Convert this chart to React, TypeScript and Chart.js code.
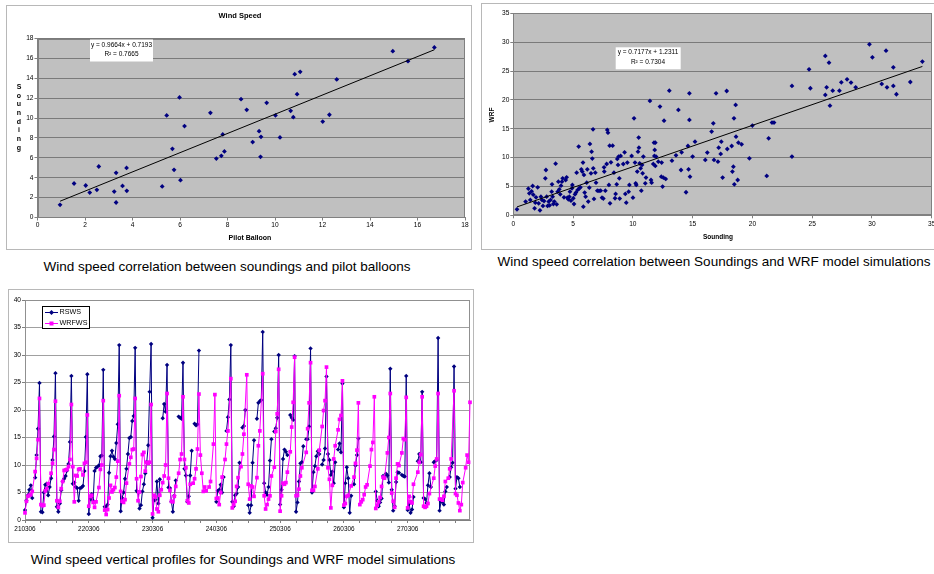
import React, { useEffect, useRef } from 'react';
import { Chart, registerables } from 'chart.js';

Chart.register(...registerables);

const FONT = '"Liberation Sans", Arial, Helvetica, sans-serif';
const NAVY = '#000080';
const PINK = '#FF00FF';

// ---------------- Chart 1: Pilot balloon vs sounding ----------------
const PILOT_BALLOON = [
  0.95, 1.54, 2.03, 2.20, 2.50, 2.58, 3.23, 3.31, 3.31, 3.58, 3.76, 3.75, 5.25, 5.44, 5.68,
  5.75, 5.98, 6.02, 6.19, 7.28, 7.53, 7.74, 7.80, 7.87, 8.57, 8.81, 9.06, 9.33, 9.39, 9.41,
  9.65, 10.02, 10.21, 10.66, 10.77, 10.83, 10.93, 11.06, 12.01, 12.29, 12.60, 14.96, 15.60, 16.71,
];
const SOUNDING_1 = [
  1.27, 3.42, 3.22, 2.51, 2.78, 5.13, 2.61, 4.49, 1.51, 3.18, 2.68, 4.99, 3.12, 10.26, 6.91,
  4.79, 12.07, 3.75, 9.19, 10.53, 5.93, 6.20, 8.35, 6.64, 11.90, 10.83, 7.58, 8.68, 6.10, 8.11,
  11.53, 10.26, 8.05, 10.73, 10.09, 14.41, 12.40, 14.65, 9.65, 10.33, 13.88, 16.73, 15.72, 17.10,
];
const TREND_1 = { slope: 0.9664, intercept: 0.7193 };
const TREND_1_TEXT = ['y = 0.9664x + 0.7193', 'R² = 0.7665'];
const AXIS_1_TICKS = { min: 0, max: 18, step: 2 };

// ---------------- Chart 2: Sounding vs WRF ----------------
const SOUNDING_2 = [
  0.31, 1.03, 1.26, 1.34, 1.42, 1.53, 1.62, 1.67, 1.78, 1.84,
  1.90, 2.04, 2.12, 2.23, 2.31, 2.40, 2.48, 2.57, 2.68, 2.73,
  2.79, 2.87, 2.96, 3.04, 3.12, 3.21, 3.24, 3.29, 3.35, 3.43,
  3.54, 3.63, 3.71, 3.77, 3.85, 3.93, 3.99, 4.07, 4.13, 4.24,
  4.38, 4.46, 4.52, 4.60, 4.69, 4.74, 4.82, 4.91, 4.94, 5.02,
  5.08, 5.16, 5.24, 5.30, 5.38, 5.47, 5.52, 5.61, 5.69, 5.77,
  5.83, 5.86, 5.91, 5.97, 6.05, 6.14, 6.19, 6.27, 6.36, 6.41,
  6.50, 6.55, 6.61, 6.67, 6.69, 6.75, 6.86, 6.92, 7.03, 7.17,
  7.31, 7.42, 7.53, 7.59, 7.61, 7.70, 7.81, 7.86, 7.92, 8.00,
  8.06, 8.09, 8.17, 8.31, 8.42, 8.51, 8.56, 8.65, 8.70, 8.76,
  8.81, 8.87, 8.90, 8.98, 9.20, 9.31, 9.37, 9.45, 9.54, 9.65,
  9.71, 9.90, 10.01, 10.10, 10.18, 10.24, 10.29, 10.37, 10.43, 10.49,
  10.51, 10.57, 10.65, 10.71, 10.77, 10.82, 10.88, 11.04, 11.10, 11.43,
  11.52, 11.57, 11.71, 11.77, 11.80, 11.83, 11.88, 11.88, 11.94, 12.13,
  12.27, 12.38, 12.41, 12.49, 12.55, 12.61, 12.75, 13.05, 13.27, 13.61,
  13.81, 14.03, 14.08, 14.45, 14.61, 14.66, 14.73, 14.73, 14.78, 15.00,
  15.20, 16.06, 16.23, 16.59, 16.73, 16.79, 16.96, 17.12, 17.18, 17.35,
  17.40, 17.51, 17.85, 17.90, 18.27, 18.33, 18.41, 18.46, 18.49, 18.60,
  18.63, 18.77, 18.83, 19.10, 19.75, 20.00, 21.20, 21.36, 21.64, 21.81,
  23.31, 23.31, 24.74, 24.85, 26.10, 26.10, 26.21, 26.41, 26.49, 26.72,
  27.28, 27.44, 27.92, 28.25, 28.64, 29.79, 30.04, 30.82, 31.18, 31.26,
  31.79, 31.79, 32.05, 33.21, 34.22,
];
const WRF_2 = [
  1.04, 2.37, 4.62, 3.81, 2.66, 4.16, 5.08, 3.58, 1.21, 2.19,
  3.12, 4.85, 2.08, 0.87, 3.23, 2.66, 1.62, 2.48, 6.41, 7.85,
  3.23, 1.62, 2.37, 1.73, 2.66, 4.10, 5.37, 3.23, 1.96, 2.37,
  8.95, 1.91, 4.10, 5.83, 4.50, 3.64, 5.14, 5.83, 6.41, 3.12,
  6.12, 6.58, 3.06, 2.77, 3.23, 4.10, 2.54, 4.68, 5.26, 2.95,
  1.96, 3.64, 3.93, 7.39, 4.39, 11.90, 4.68, 4.85, 7.97, 7.57,
  9.13, 1.50, 6.99, 3.93, 3.23, 5.66, 7.97, 2.37, 4.79, 12.36,
  7.28, 11.03, 9.82, 14.90, 8.14, 2.83, 7.39, 5.66, 4.27, 4.22,
  4.27, 3.06, 2.89, 8.32, 7.57, 4.27, 8.89, 14.79, 14.32, 5.26,
  12.07, 2.08, 9.18, 12.07, 7.39, 2.95, 3.70, 5.37, 9.76, 8.72,
  10.17, 6.41, 2.89, 10.28, 8.89, 10.92, 3.70, 2.19, 9.13, 4.10,
  5.26, 10.28, 3.06, 16.81, 9.13, 5.54, 5.26, 7.57, 11.03, 13.46,
  11.72, 9.01, 8.14, 4.27, 8.72, 7.28, 10.17, 5.54, 6.53, 19.81,
  6.12, 5.66, 8.89, 12.59, 10.28, 11.32, 12.59, 8.55, 10.17, 9.30,
  18.83, 6.70, 9.13, 4.97, 6.53, 16.40, 6.30, 21.60, 9.47, 10.40,
  18.25, 7.85, 10.92, 3.99, 12.01, 7.97, 21.14, 16.52, 6.70, 10.17,
  12.76, 9.59, 10.86, 14.50, 15.94, 9.59, 21.14, 9.30, 11.72, 10.63,
  12.76, 6.53, 21.54, 11.49, 12.01, 7.57, 8.43, 16.81, 5.37, 19.12,
  13.63, 6.12, 12.59, 12.30, 9.88, 15.54, 6.82, 13.34, 16.06, 16.06,
  22.41, 10.17, 25.30, 22.01, 27.61, 20.85, 22.18, 26.45, 19.00, 21.60,
  21.60, 23.04, 23.56, 22.99, 22.18, 29.63, 27.38, 22.76, 28.53, 22.18,
  22.41, 25.64, 20.97, 23.10, 26.63,
];
const TREND_2 = { slope: 0.7177, intercept: 1.2311 };
const TREND_2_TEXT = ['y = 0.7177x + 1.2311', 'R² = 0.7304'];
const AXIS_2_TICKS = { min: 0, max: 35, step: 5 };

// ---------------- Chart 3: vertical profiles ----------------
const DAY_LABELS = ['210306', '220306', '230306', '240306', '250306', '260306', '270306'];
const LEVELS_PER_PROFILE = 11;
const PROFILES_PER_DAY = 4;
const _ = null;
const RSWS: (number | null)[] = [
  1.8, 3.5, 4.5, 5.5, 6.3, 4.0, _, 7.7, 11.8, 16.6, 24.9,
  1.5, 1.4, 5.0, 6.4, 6.6, 4.5, 6.0, 7.6, 10.9, 15.2, 26.7,
  2.4, 1.5, 3.0, 5.4, 7.0, 7.5, 8.0, 9.0, 10.2, 14.2, 26.2,
  6.6, 6.8, 6.0, 5.8, 3.5, 5.8, 5.9, 6.2, 8.9, 15.1, 26.5,
  1.1, 3.8, 4.7, 3.5, 8.9, 9.5, 9.7, 9.9, 11.6, 11.7, 27.3,
  2.4, 2.4, 2.8, 8.6, 11.6, 12.6, 11.5, 11.1, 14.0, 17.4, 31.8,
  1.6, 4.0, 5.0, 7.5, 9.3, 12.0, 14.9, 15.1, 18.0, 18.9, 31.3,
  5.3, 5.0, 2.1, 2.7, 5.2, 6.5, 8.5, 10.5, 13.6, 23.3, 32.0,
  0.4, 3.6, 3.7, 7.0, 3.0, 7.4, _, 18.5, 21.1, 19.7, 28.2,
  5.9, 5.8, 3.3, 1.5, 4.4, 7.2, _, 18.8, 18.6, 18.4, 28.6,
  9.3, 8.1, 3.3, 4.3, 8.1, 12.6, _, 17.5, 17.2, 17.4, 30.8,
  _, _, _, _, _, _, _, _, _, _, _,
  3.3, 5.3, 5.5, 6.4, 5.0, 7.8, _, 16.2, 18.7, 21.9, 31.8,
  3.3, 2.5, 4.5, 4.8, 6.0, 10.4, _, 16.8, 17.1, 20.0, _,
  2.7, 1.3, 2.7, 10.4, 14.5, _, 18.4, 21.3, 21.6, 21.8, 34.2,
  6.7, 5.0, 4.6, 6.0, 10.8, 14.7, _, 16.1, 16.7, 18.6, 30.0,
  2.8, 5.5, 11.1, 12.8, 12.4, 11.8, _, 19.1, 18.6, 18.2, 29.8,
  1.5, 3.2, 7.0, 10.3, 10.5, 13.4, _, 14.7, 14.7, 17.0, 31.2,
  5.0, 8.7, 9.8, 11.6, 12.5, 12.0, _, 10.1, 10.9, 13.0, 26.1,
  12.0, 10.9, 8.2, 8.8, 6.7, 10.5, _, 12.8, 13.9, 12.3, 24.8,
  2.3, 6.7, 9.6, 7.6, 1.3, 4.4, _, 6.5, 9.9, 11.8, 14.8,
  _, _, _, _, _, _, _, _, _, _, _,
  5.2, 3.5, 2.5, 3.2, 3.9, 8.0, 7.7, 8.4, 8.1, 6.8, 27.5,
  5.5, 1.7, 2.5, 6.9, 8.7, 8.6, _, 8.2, 8.0, 7.9, 26.2,
  1.8, 3.0, 1.3, 1.9, 4.2, _, _, 10.7, 12.0, 10.5, 23.3,
  4.0, 3.8, 3.1, 6.3, 8.5, 6.0, _, 10.5, 10.7, 10.9, 33.1,
  1.7, 3.3, 3.3, 2.8, 5.2, 6.0, _, 7.8, 9.6, 10.4, 27.9,
  5.7, 7.8, 7.6, 6.0, _, _, _, _, _, _, _,
];
const WRFWS: (number | null)[] = [
  1.3, 3.4, 4.3, 4.5, 4.6, 5.2, _, 8.8, 11.2, 14.6, 22.1,
  2.8, 2.6, 2.7, 5.3, 5.7, 6.6, _, 8.5, 10.3, 12.8, 21.6,
  3.5, 2.3, 3.4, 5.7, 7.0, 9.0, 9.1, 9.2, 9.7, 11.0, 21.0,
  9.7, 3.3, 8.1, 8.0, 9.2, 9.3, _, 8.2, 10.3, 10.5, 19.1,
  2.5, 4.3, 4.5, 3.2, 2.3, 3.3, _, 5.9, 9.2, 10.0, 21.7,
  1.8, 1.0, 1.9, 4.0, 6.3, 5.1, 5.5, 5.9, 7.8, 10.7, 22.6,
  5.2, 3.4, 3.2, 3.7, 6.7, _, 10.2, 11.4, 12.8, 12.9, 22.1,
  7.5, 3.5, 5.1, 7.9, 11.9, 12.3, 8.9, 10.5, 10.3, 10.5, 21.0,
  1.1, 4.5, 4.2, 2.0, 1.5, 4.5, 5.5, 6.8, 8.0, 10.0, 23.0,
  7.6, 5.4, 3.4, 3.3, 4.3, 6.1, _, 8.5, 11.0, 12.0, 22.4,
  11.0, 9.5, 3.5, 3.1, 6.5, _, 6.7, 7.5, 9.3, 12.9, 22.9,
  11.8, 8.5, 5.2, 6.0, 5.3, _, 6.0, 7.0, _, 13.8, 22.8,
  3.9, 4.0, 2.8, 5.0, 7.8, _, 11.0, 13.8, 16.2, _, 25.7,
  2.2, 2.8, 3.4, 6.1, 7.7, _, 9.7, 12.0, 15.6, _, 26.4,
  6.5, 3.8, 6.2, 6.0, 4.3, _, 7.7, 13.5, 16.2, _, 26.6,
  4.4, 2.0, 2.8, 3.8, 4.4, 8.0, _, 9.6, 16.1, 19.3, 27.4,
  1.6, 4.4, 6.7, 6.5, 6.8, 8.7, _, 12.4, 16.9, 21.4, 29.6,
  4.4, 4.5, 5.6, 8.0, 9.5, _, _, 12.3, 16.6, 21.3, 28.6,
  5.4, 5.4, 6.1, _, 9.3, 12.7, _, 17.0, 19.9, 21.7, 27.8,
  9.5, 7.4, 2.2, 6.3, 11.1, 13.5, _, 16.4, 18.3, 19.0, 25.3,
  2.7, 3.0, 4.3, 4.5, _, 6.2, _, 7.8, 10.3, 12.7, 21.3,
  2.8, 3.3, 3.7, 4.6, 6.0, 6.4, _, 9.8, 12.8, 14.1, 22.4,
  2.1, 2.7, 3.3, 4.1, 6.1, 7.8, 7.6, _, 12.2, 15.0, 23.0,
  4.9, 3.4, 2.3, 7.6, 10.2, 9.9, _, 12.2, 14.8, 14.6, 22.3,
  2.2, 4.3, 3.3, 3.1, 6.5, _, _, 8.7, 10.5, 11.9, 22.4,
  2.5, 2.3, 2.5, 3.0, 4.8, _, _, 7.6, 9.8, 11.1, 23.0,
  3.8, 3.8, 3.6, 4.3, 7.0, _, 7.6, 9.3, 11.1, _, 23.5,
  4.8, 4.5, 3.1, 1.7, 2.8, 6.8, _, 9.5, 11.8, 10.5, 21.4,
];
const CATEGORIES = RSWS.map((__, i) => String(i));
const AXIS_3_TICKS = { min: 0, max: 40, step: 5 };

// ---------------- helpers ----------------
type Txt = { t: string; x: number; y: number; font: string; align?: CanvasTextAlign; rot?: number };

function decorPlugin(opts: {
  plotBg?: string;
  plotBorder: string;
  frame: string;
  texts: Txt[];
  extra?: (ctx: CanvasRenderingContext2D) => void;
}) {
  return {
    id: 'decor',
    beforeDraw(chart: any) {
      const { ctx, chartArea: a } = chart;
      ctx.save();
      ctx.fillStyle = '#ffffff';
      ctx.fillRect(0, 0, chart.width, chart.height);
      if (opts.plotBg) {
        ctx.fillStyle = opts.plotBg;
        ctx.fillRect(a.left, a.top, a.right - a.left, a.bottom - a.top);
      }
      ctx.restore();
    },
    beforeDatasetsDraw(chart: any) {
      const { ctx, chartArea: a } = chart;
      ctx.save();
      ctx.strokeStyle = opts.plotBorder;
      ctx.lineWidth = 1;
      const l = Math.round(a.left) + 0.5;
      const t = Math.round(a.top) + 0.5;
      const r = Math.round(a.right) - 0.5;
      const b = Math.round(a.bottom) - 0.5;
      ctx.strokeRect(l, t, r - l, b - t);
      ctx.restore();
    },
    afterDraw(chart: any) {
      const { ctx } = chart;
      ctx.save();
      ctx.strokeStyle = opts.frame;
      ctx.lineWidth = 1;
      ctx.strokeRect(0.5, 0.5, chart.width - 1, chart.height - 1);
      if (opts.extra) opts.extra(ctx);
      ctx.fillStyle = '#000';
      ctx.textBaseline = 'middle';
      for (const tx of opts.texts) {
        ctx.save();
        ctx.font = tx.font;
        ctx.textAlign = tx.align || 'center';
        ctx.translate(tx.x, tx.y);
        if (tx.rot) ctx.rotate(tx.rot);
        ctx.fillText(tx.t, 0, 0);
        ctx.restore();
      }
      ctx.restore();
    },
  };
}

function trendBox(ctx: CanvasRenderingContext2D, x: number, y: number, w: number, h: number) {
  ctx.fillStyle = '#ffffff';
  ctx.fillRect(x, y, w, h);
}

const tickFont = (size: number) => ({ family: FONT, size });

function scatterConfig(p: {
  xs: number[];
  ys: number[];
  trend: { slope: number; intercept: number };
  axis: { min: number; max: number; step: number };
  yAxis: { min: number; max: number; step: number };
  padTop: number;
  padRight: number;
  yWidth: number;
  xHeight: number;
  xTickPad: number;
  plugin: any;
}) {
  const lo = Math.min(...p.xs);
  const hi = Math.max(...p.xs);
  const trendData = [
    { x: lo, y: p.trend.slope * lo + p.trend.intercept },
    { x: hi, y: p.trend.slope * hi + p.trend.intercept },
  ];
  return {
    type: 'scatter' as const,
    data: {
      datasets: [
        {
          type: 'line' as const,
          data: trendData,
          borderColor: '#000000',
          borderWidth: 1,
          pointRadius: 0,
          showLine: true,
          order: 0,
        },
        {
          data: p.xs.map((x, i) => ({ x, y: p.ys[i] })),
          pointStyle: 'rectRot',
          pointRadius: 2.4,
          backgroundColor: NAVY,
          borderColor: NAVY,
          borderWidth: 0,
          order: 1,
        },
      ],
    },
    options: {
      animation: false as const,
      responsive: false,
      events: [],
      layout: { padding: { top: p.padTop, right: p.padRight, left: 0, bottom: 0 } },
      plugins: { legend: { display: false }, tooltip: { enabled: false }, title: { display: false } },
      scales: {
        x: {
          type: 'linear' as const,
          min: p.axis.min,
          max: p.axis.max,
          ticks: { stepSize: p.axis.step, font: tickFont(6.6), color: '#000', padding: p.xTickPad, maxRotation: 0 },
          grid: { drawOnChartArea: false, tickLength: 3, tickColor: '#808080' },
          border: { color: '#808080' },
          afterFit: (s: any) => { s.height = p.xHeight; },
        },
        y: {
          type: 'linear' as const,
          min: p.yAxis.min,
          max: p.yAxis.max,
          ticks: { stepSize: p.yAxis.step, font: tickFont(6.6), color: '#000', padding: 1 },
          grid: { color: '#7a7a7a', tickLength: 3, tickColor: '#808080' },
          border: { color: '#808080' },
          afterFit: (s: any) => { s.width = p.yWidth; },
        },
      },
    },
    plugins: [p.plugin],
  };
}

function ChartCanvas(props: { left: number; top: number; width: number; height: number; build: (c: HTMLCanvasElement) => Chart }) {
  const ref = useRef<HTMLCanvasElement>(null);
  useEffect(() => {
    const chart = props.build(ref.current as HTMLCanvasElement);
    return () => chart.destroy();
  }, []);
  return (
    <canvas
      ref={ref}
      width={props.width}
      height={props.height}
      style={{ position: 'absolute', left: props.left, top: props.top, width: props.width, height: props.height }}
    />
  );
}

// ---------------- chart builders ----------------
function buildChart1(canvas: HTMLCanvasElement) {
  const letters = 'Sounding'.split('');
  const texts: Txt[] = [
    { t: 'Wind Speed', x: 234, y: 11, font: `bold 7.5px ${FONT}` },
    { t: 'Pilot Balloon', x: 244, y: 233, font: `bold 7px ${FONT}` },
    { t: TREND_1_TEXT[0], x: 115.5, y: 40.5, font: `6.5px ${FONT}` },
    { t: TREND_1_TEXT[1], x: 115.5, y: 49.5, font: `6.5px ${FONT}` },
    ...letters.map((ch, i) => ({ t: ch, x: 13, y: 82 + i * 8.7, font: `bold 7px ${FONT}` })),
  ];
  const plugin = decorPlugin({
    plotBg: '#c0c0c0',
    plotBorder: '#808080',
    frame: '#b8b8b8',
    texts,
    extra: (ctx) => trendBox(ctx, 84, 34.5, 63, 22),
  });
  return new Chart(
    canvas,
    scatterConfig({
      xs: PILOT_BALLOON,
      ys: SOUNDING_1,
      trend: TREND_1,
      axis: AXIS_1_TICKS,
      yAxis: AXIS_1_TICKS,
      padTop: 33.5,
      padRight: 7,
      yWidth: 31.5,
      xHeight: 32.5,
      xTickPad: 1,
      plugin,
    }) as any
  );
}

function buildChart2(canvas: HTMLCanvasElement) {
  const texts: Txt[] = [
    { t: 'Sounding', x: 237, y: 234, font: `bold 6.5px ${FONT}` },
    { t: 'WRF', x: 11, y: 112, font: `bold 6.5px ${FONT}`, rot: -Math.PI / 2 },
    { t: TREND_2_TEXT[0], x: 167, y: 49.7, font: `6.5px ${FONT}` },
    { t: TREND_2_TEXT[1], x: 167, y: 59, font: `6.5px ${FONT}` },
  ];
  const plugin = decorPlugin({
    plotBg: '#c0c0c0',
    plotBorder: '#808080',
    frame: '#b8b8b8',
    texts,
    extra: (ctx) => trendBox(ctx, 134.7, 44.3, 65, 22),
  });
  return new Chart(
    canvas,
    scatterConfig({
      xs: SOUNDING_2,
      ys: WRF_2,
      trend: TREND_2,
      axis: AXIS_2_TICKS,
      yAxis: AXIS_2_TICKS,
      padTop: 10.3,
      padRight: 9.3,
      yWidth: 32.3,
      xHeight: 34.7,
      xTickPad: 2,
      plugin,
    }) as any
  );
}

function buildChart3(canvas: HTMLCanvasElement) {
  const step = LEVELS_PER_PROFILE * PROFILES_PER_DAY;
  const plugin = decorPlugin({
    plotBorder: '#909090',
    frame: '#b8b8b8',
    texts: [
      { t: 'RSWS', x: 51.5, y: 23.3, font: `7.2px ${FONT}`, align: 'left' },
      { t: 'WRFWS', x: 51.5, y: 34.3, font: `7.2px ${FONT}`, align: 'left' },
    ],
    extra: (ctx) => {
      ctx.fillStyle = '#ffffff';
      ctx.fillRect(34, 17, 48, 22);
      ctx.strokeStyle = '#000000';
      ctx.lineWidth = 1;
      ctx.strokeRect(34.5, 17.5, 47, 22);
      // RSWS sample
      ctx.strokeStyle = NAVY;
      ctx.beginPath();
      ctx.moveTo(37, 23.5);
      ctx.lineTo(50, 23.5);
      ctx.stroke();
      ctx.fillStyle = NAVY;
      ctx.beginPath();
      ctx.moveTo(43.5, 21);
      ctx.lineTo(46, 23.5);
      ctx.lineTo(43.5, 26);
      ctx.lineTo(41, 23.5);
      ctx.closePath();
      ctx.fill();
      // WRFWS sample
      ctx.strokeStyle = PINK;
      ctx.beginPath();
      ctx.moveTo(37, 34.5);
      ctx.lineTo(50, 34.5);
      ctx.stroke();
      ctx.fillStyle = PINK;
      ctx.fillRect(41.5, 32.5, 4, 4);
    },
  });
  return new Chart(canvas, {
    type: 'line',
    data: {
      labels: CATEGORIES,
      datasets: [
        {
          label: 'WRFWS',
          data: WRFWS,
          borderColor: PINK,
          backgroundColor: PINK,
          borderWidth: 1,
          pointStyle: 'rect',
          pointRadius: 2.6,
          pointBorderWidth: 0,
          spanGaps: true,
          order: 0,
        },
        {
          label: 'RSWS',
          data: RSWS,
          borderColor: NAVY,
          backgroundColor: NAVY,
          borderWidth: 1,
          pointStyle: 'rectRot',
          pointRadius: 2.2,
          pointBorderWidth: 0,
          spanGaps: 3,
          order: 1,
        },
      ],
    },
    options: {
      animation: false,
      responsive: false,
      events: [],
      layout: { padding: { top: 11, right: 3.5, left: 0, bottom: 0 } },
      plugins: { legend: { display: false }, tooltip: { enabled: false } },
      scales: {
        x: {
          type: 'category',
          offset: false,
          ticks: {
            autoSkip: false,
            maxRotation: 0,
            minRotation: 0,
            font: tickFont(6.4),
            color: '#000',
            padding: 2,
            callback: (_v: any, i: number) => (i % step === 0 ? DAY_LABELS[i / step] || '' : ''),
          },
          grid: {
            drawOnChartArea: false,
            tickLength: 3,
            tickColor: (c: any) => (c.index % LEVELS_PER_PROFILE === 0 ? '#808080' : 'rgba(0,0,0,0)'),
          },
          border: { color: '#808080' },
          afterFit: (s: any) => { s.height = 23; },
        },
        y: {
          min: AXIS_3_TICKS.min,
          max: AXIS_3_TICKS.max,
          ticks: { stepSize: AXIS_3_TICKS.step, font: tickFont(6.6), color: '#000', padding: 1 },
          grid: { color: '#a0a0a0', tickLength: 3, tickColor: '#808080' },
          border: { color: '#808080' },
          afterFit: (s: any) => { s.width = 17; },
        },
      },
    } as any,
    plugins: [plugin as any],
  });
}

const captionStyle = (left: number, top: number, width: number): React.CSSProperties => ({
  position: 'absolute',
  left,
  top,
  width,
  textAlign: 'center',
  font: `13.5px ${FONT}`,
  lineHeight: '16px',
  whiteSpace: 'nowrap',
  color: '#000',
});

export default function App() {
  return (
    <div
      style={{
        position: 'fixed',
        left: 0,
        top: 0,
        width: 934,
        height: 574,
        background: '#ffffff',
        overflow: 'hidden',
      }}
    >
      <ChartCanvas left={6} top={5} width={466} height={245} build={buildChart1} />
      <ChartCanvas left={481} top={3} width={460} height={247} build={buildChart2} />
      <ChartCanvas left={8} top={289} width={466} height={254} build={buildChart3} />
      <div style={captionStyle(27, 259, 400)}>Wind speed correlation between soundings and pilot balloons</div>
      <div style={captionStyle(484, 254, 460)}>Wind speed correlation between Soundings and WRF model simulations</div>
      <div style={captionStyle(23, 552, 440)}>Wind speed vertical profiles for Soundings and WRF model simulations</div>
    </div>
  );
}
